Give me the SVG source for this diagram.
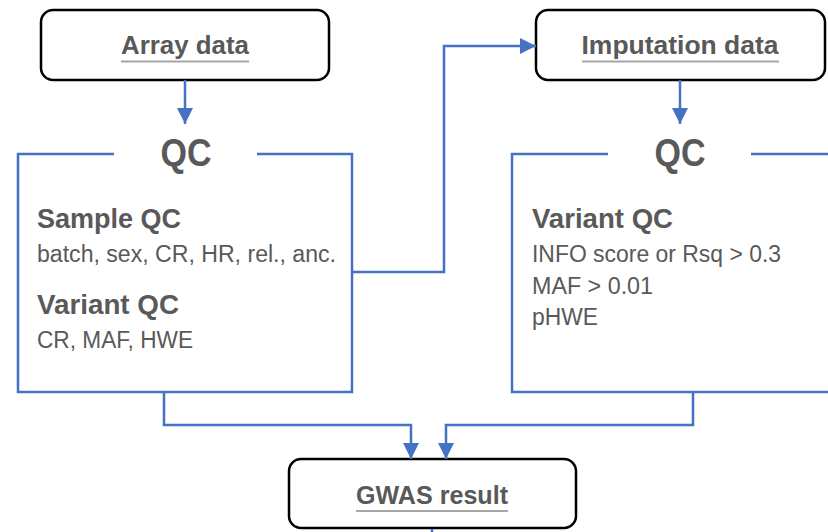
<svg xmlns="http://www.w3.org/2000/svg" width="828" height="532" viewBox="0 0 828 532">
<style>
.box{fill:#fff;stroke:#000;stroke-width:2.5}
.title{font-family:"Liberation Sans",Arial,sans-serif;font-weight:bold;font-size:25px;fill:#595959;text-anchor:middle}
.ul{stroke:#a6a6a6;stroke-width:2}
.qc{font-family:"Liberation Sans",Arial,sans-serif;font-weight:bold;font-size:39px;fill:#595959;text-anchor:middle}
.h{font-family:"Liberation Sans",Arial,sans-serif;font-weight:bold;font-size:27px;fill:#595959}
.t{font-family:"Liberation Sans",Arial,sans-serif;font-size:23px;fill:#595959}
.frame{fill:none;stroke:#4472C4;stroke-width:2.5}
.conn{fill:none;stroke:#4472C4;stroke-width:2.5}
</style>
<defs>
<marker id="arr" markerUnits="userSpaceOnUse" markerWidth="16" markerHeight="16" refX="16" refY="8" orient="auto" viewBox="0 0 16 16">
<path d="M0,0 L16,8 L0,16 z" fill="#4472C4"/>
</marker>
</defs>
<g id="array-data">
<rect class="box" x="41" y="10" width="288" height="70" rx="12"/>
<text class="title" x="185" y="54" textLength="128" lengthAdjust="spacingAndGlyphs">Array data</text>
<line class="ul" x1="121" y1="61.5" x2="249" y2="61.5"/>
</g>
<g id="imputation-data">
<rect class="box" x="536" y="10" width="289" height="70" rx="12"/>
<text class="title" x="680" y="54" textLength="197" lengthAdjust="spacingAndGlyphs">Imputation data</text>
<line class="ul" x1="582" y1="61.5" x2="779" y2="61.5"/>
</g>
<g id="qc-left">
<path class="frame" d="M114,154 H18 V392 H352 V154 H257"/>
<text class="qc" x="186" y="166" textLength="51" lengthAdjust="spacingAndGlyphs">QC</text>
<text class="h" x="37" y="228" textLength="144" lengthAdjust="spacingAndGlyphs">Sample QC</text>
<text class="t" x="37" y="262" textLength="299" lengthAdjust="spacingAndGlyphs">batch, sex, CR, HR, rel., anc.</text>
<text class="h" x="37" y="314" textLength="142" lengthAdjust="spacingAndGlyphs">Variant QC</text>
<text class="t" x="37" y="348" textLength="156" lengthAdjust="spacingAndGlyphs">CR, MAF, HWE</text>
</g>
<g id="qc-right">
<path class="frame" d="M608,154 H512 V392 H830 M751,154 H830"/>
<text class="qc" x="680" y="166" textLength="51" lengthAdjust="spacingAndGlyphs">QC</text>
<text class="h" x="532" y="228" textLength="141" lengthAdjust="spacingAndGlyphs">Variant QC</text>
<text class="t" x="532" y="262" textLength="249" lengthAdjust="spacingAndGlyphs">INFO score or Rsq &gt; 0.3</text>
<text class="t" x="532" y="293.5" textLength="121" lengthAdjust="spacingAndGlyphs">MAF &gt; 0.01</text>
<text class="t" x="532" y="325" textLength="66" lengthAdjust="spacingAndGlyphs">pHWE</text>
</g>
<g id="gwas-result">
<rect class="box" x="289" y="459" width="287" height="69" rx="12"/>
<text class="title" x="432" y="504" textLength="152" lengthAdjust="spacingAndGlyphs">GWAS result</text>
<line class="ul" x1="356" y1="511" x2="508" y2="511"/>
</g>
<g id="connectors">
<path class="conn" d="M185,80 V124" marker-end="url(#arr)"/>
<path class="conn" d="M680,80 V124" marker-end="url(#arr)"/>
<path class="conn" d="M352,272 H444 V46 H536" marker-end="url(#arr)"/>
<path class="conn" d="M164,392 V425 H411 V459" marker-end="url(#arr)"/>
<path class="conn" d="M693,392 V425 H446 V459" marker-end="url(#arr)"/>
<path class="conn" d="M432,529 V533"/>
</g>
</svg>
